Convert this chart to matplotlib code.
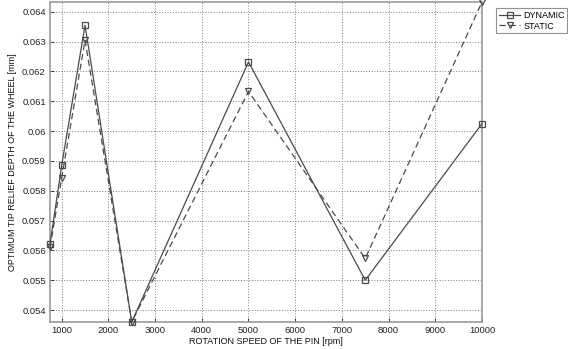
import matplotlib
matplotlib.use("Agg")
import matplotlib.pyplot as plt

rpm = [750, 1000, 1500, 2500, 5000, 7500, 10000]
dynamic = [0.05621, 0.05885, 0.06355, 0.05360, 0.06232, 0.05500, 0.06025]
static = [0.05610, 0.05843, 0.06305, 0.05360, 0.06133, 0.05573, 0.06433]
xticks = [1000, 2000, 3000, 4000, 5000, 6000, 7000, 8000, 9000, 10000]
yticks = [0.054, 0.055, 0.056, 0.057, 0.058, 0.059, 0.06, 0.061, 0.062, 0.063, 0.064]
ytick_labels = ["0.054", "0.055", "0.056", "0.057", "0.058", "0.059", "0.06",
                "0.061", "0.062", "0.063", "0.064"]

plt.rcParams['font.family'] = ['Liberation Sans', 'DejaVu Sans']

fig = plt.figure(figsize=(5.68, 3.49), dpi=100)
ax = fig.add_axes([50/568, 27/349, 432/568, 320/349])

lc = '#4a4a4a'
ax.plot(rpm, dynamic, '-', color=lc, lw=0.9, marker='s', ms=4.2,
        mfc='none', mec=lc, mew=0.9, label='DYNAMIC', clip_on=False, zorder=3)
ax.plot(rpm, static, '--', color=lc, lw=0.9, marker='v', ms=4.2,
        mfc='none', mec=lc, mew=0.9, label='STATIC', dashes=(5, 3),
        clip_on=False, zorder=3)

ax.set_xlim(750, 10000)
ax.set_ylim(0.05360, 0.06433)
ax.set_xticks(xticks)
ax.set_xticklabels([str(t) for t in xticks])
ax.set_yticks(yticks)
ax.set_yticklabels(ytick_labels)
ax.tick_params(direction='in', length=3, width=0.6, colors='#222222',
               labelsize=6.8, pad=3)
ax.grid(True, linestyle=(0, (1, 1.8)), color='#7a7a7a', lw=0.7)
for s in ax.spines.values():
    s.set_color('#999999')
    s.set_linewidth(1.2)

ax.set_xlabel('ROTATION SPEED OF THE PIN [rpm]', fontsize=6.5, color='#111111',
              labelpad=1)
ax.set_ylabel('OPTIMUM TIP RELIEF DEPTH OF THE WHEEL [mm]', fontsize=6.5,
              color='#111111', labelpad=4)

leg = ax.legend(loc='upper left', bbox_to_anchor=(496/568, 341/349),
                bbox_transform=fig.transFigure, fontsize=6.5, frameon=True,
                fancybox=False, edgecolor='#777777', borderpad=0.3,
                handlelength=2.4, handletextpad=0.3, labelspacing=0.2,
                borderaxespad=0)
leg.get_frame().set_linewidth(0.8)

fig.savefig('out.png', dpi=100)
